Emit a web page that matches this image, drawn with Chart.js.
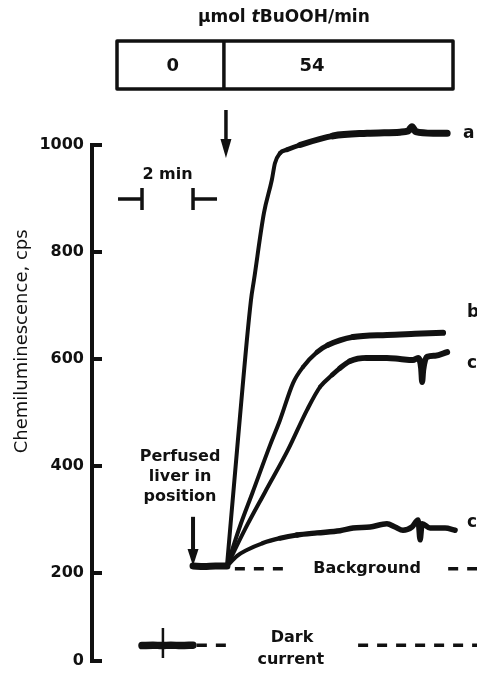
<!DOCTYPE html>
<html>
<head>
<meta charset="utf-8">
<title>Chemiluminescence of perfused liver</title>
<script src="https://cdn.jsdelivr.net/npm/chart.js@4.4.1/dist/chart.umd.min.js"></script>
<style>
  html, body { margin: 0; padding: 0; background: #fff; }
  #wrap { width: 477px; height: 673px; position: relative; }
</style>
</head>
<body>
<div id="wrap"><canvas id="clChart"></canvas></div>
<script>
// time in minutes (0 = start of tBuOOH infusion), values in cps
const yTicks = [0, 200, 400, 600, 800, 1000];

const baseTime = [-1.33, -0.9, -0.45, 0];
const baseVals = [213, 212, 213, 213];

const timeA = [0, 0.43, 0.94, 1.06, 1.45, 1.76, 1.88, 2.08, 2.35, 2.86, 4.16, 5.49, 6.78, 7.1, 7.25, 7.4, 8.08, 8.63];
const valsA = [213, 449, 710, 748, 873, 935, 966, 985, 991, 1000, 1017, 1022, 1024, 1026, 1034, 1025, 1022, 1022];

const timeB = [0, 0.5, 1.0, 1.69, 2.08, 2.59, 2.98, 3.53, 3.96, 4.94, 6.27, 7.37, 8.47];
const valsB = [213, 286, 350, 439, 486, 555, 585, 613, 626, 641, 645, 647, 649];

const timeC = [0, 0.71, 1.49, 2.39, 3.14, 3.65, 4.12, 4.43, 4.82, 5.49, 6.27, 6.78, 7.29, 7.49, 7.61, 7.65, 7.69, 7.84, 8.16, 8.63];
const valsC = [213, 282, 351, 430, 505, 548, 570, 583, 596, 602, 602, 600, 598, 602, 583, 557, 579, 604, 606, 613];

const timeC2 = [0, 0.4, 0.78, 1.41, 2.08, 2.75, 3.53, 4.43, 4.94, 5.61, 6.27, 6.59, 6.9, 7.25, 7.49, 7.57, 7.65, 7.96, 8.55, 8.94];
const valsC2 = [213, 232, 243, 256, 265, 271, 275, 279, 284, 286, 292, 286, 280, 286, 299, 262, 292, 284, 284, 280];

const darkTime = [-3.33, -2.9, -2.55, -2.2, -1.8, -1.33];
const darkVals = [35, 36, 35, 36, 35, 36];
const darkSpikeTime = [-2.51, -2.51];
const darkSpikeVals = [75, 7];

const backgroundLevel = 208;
const backgroundDashFrom = [0.31, 8.67];
const backgroundDashTo = [2.27, 9.8];
const darkDashFrom = [-1.18, 5.14];
const darkDashTo = [0.2, 9.8];

const rateLabels = ["0", "54"];
const rateTitle = ["\u00b5mol ", "t", "BuOOH/min"];
const curveLabels = ["a", "b", "c", "c"];

// timing marks (minutes)
const infusionStart = -0.04;
const liverInPosition = -1.33;
const scaleBarMinutes = 2;

const INK = "#111";
const FONT = "'DejaVu Sans', sans-serif";

// the printed axis is squeezed below 200 cps
const BREAK_VALUE = 200;
const BREAK_FRACTION = 428 / 516;

class BrokenLinearScale extends Chart.LinearScale {
  getPixelForValue(value) {
    if (value === null || value === undefined || isNaN(value)) return NaN;
    const h = this.bottom - this.top;
    const upperH = h * BREAK_FRACTION;
    if (value >= BREAK_VALUE) {
      return this.top + (this.max - value) / (this.max - BREAK_VALUE) * upperH;
    }
    return this.top + upperH + (BREAK_VALUE - value) / (BREAK_VALUE - this.min) * (h - upperH);
  }
  getValueForPixel(pixel) {
    const h = this.bottom - this.top;
    const upperH = h * BREAK_FRACTION;
    if (pixel <= this.top + upperH) {
      return this.max - (pixel - this.top) / upperH * (this.max - BREAK_VALUE);
    }
    return BREAK_VALUE - (pixel - this.top - upperH) / (h - upperH) * (BREAK_VALUE - this.min);
  }
}
BrokenLinearScale.id = "brokenLinear";
BrokenLinearScale.defaults = Chart.LinearScale.defaults;
Chart.register(BrokenLinearScale);

function toPoints(times, values) {
  return times.map((t, i) => ({ x: t, y: values[i] }));
}

// noisy plateaus print thicker than the rising parts
function traceDataset(label, times, values, thickFrom, thickWidth) {
  return {
    label,
    data: toPoints(times, values),
    borderColor: INK,
    borderWidth: 4,
    borderCapStyle: "round",
    borderJoinStyle: "round",
    pointRadius: 0,
    cubicInterpolationMode: "monotone",
    clip: false,
    segment: {
      borderWidth: (ctx) => {
        const k = Math.min(Math.max((ctx.p0.parsed.x - thickFrom) / 1.5, 0), 1);
        return 4 + (thickWidth - 4) * k;
      }
    }
  };
}

function dashDataset(label, starts, ends, level) {
  const data = [];
  starts.forEach((s, i) => {
    if (i > 0) data.push({ x: (ends[i - 1] + s) / 2, y: null });
    data.push({ x: s, y: level }, { x: ends[i], y: level });
  });
  return {
    label,
    data,
    borderColor: INK,
    borderWidth: 3.5,
    borderDash: [10, 9],
    pointRadius: 0,
    spanGaps: false,
    clip: false
  };
}

function drawArrowDown(ctx, px, yFrom, yTip, headLen, headW) {
  ctx.beginPath();
  ctx.moveTo(px, yFrom);
  ctx.lineTo(px, yTip - headLen + 2);
  ctx.stroke();
  ctx.beginPath();
  ctx.moveTo(px - headW / 2, yTip - headLen);
  ctx.lineTo(px + headW / 2, yTip - headLen);
  ctx.lineTo(px, yTip);
  ctx.closePath();
  ctx.fill();
}

const annotations = {
  id: "annotations",
  afterDraw(chart) {
    const { ctx, chartArea } = chart;
    const x = chart.scales.x;
    const y = chart.scales.y;
    const px = (t) => x.getPixelForValue(t);
    const py = (v) => y.getPixelForValue(v);

    ctx.save();
    ctx.strokeStyle = INK;
    ctx.fillStyle = INK;
    ctx.lineWidth = 4;
    ctx.lineCap = "butt";

    // inward tick marks
    yTicks.forEach((v) => {
      const p = py(v);
      ctx.beginPath();
      ctx.moveTo(chartArea.left - 2, p);
      ctx.lineTo(chartArea.left + 10, p);
      ctx.stroke();
    });

    // y axis title
    ctx.save();
    ctx.translate(22, py(633));
    ctx.rotate(-Math.PI / 2);
    ctx.font = "18px " + FONT;
    ctx.textAlign = "center";
    ctx.textBaseline = "middle";
    ctx.fillText("Chemiluminescence, cps", 0, 0);
    ctx.restore();

    // infusion-rate box
    const boxL = px(-4.31), boxR = px(8.86), boxDiv = px(-0.12);
    ctx.lineWidth = 3.5;
    ctx.lineJoin = "round";
    ctx.strokeRect(boxL, 41, boxR - boxL, 48);
    ctx.beginPath();
    ctx.moveTo(boxDiv, 41);
    ctx.lineTo(boxDiv, 89);
    ctx.stroke();

    ctx.font = "bold 18px " + FONT;
    ctx.textAlign = "center";
    ctx.textBaseline = "middle";
    ctx.fillText(rateLabels[0], px(-2.12), 66);
    ctx.fillText(rateLabels[1], px(3.33), 66);

    // title with italic t
    const fonts = ["bold 17px " + FONT, "bold italic 17px " + FONT, "bold 17px " + FONT];
    let total = 0;
    rateTitle.forEach((s, i) => { ctx.font = fonts[i]; total += ctx.measureText(s).width; });
    let cx = px(2.23) - total / 2;
    ctx.textAlign = "left";
    rateTitle.forEach((s, i) => {
      ctx.font = fonts[i];
      ctx.fillText(s, cx, 18);
      cx += ctx.measureText(s).width;
    });

    // tBuOOH arrow
    drawArrowDown(ctx, px(infusionStart), 110, 158, 19, 11);

    // 2 min scale bar
    const barY = py(899);
    const l = px(liverInPosition - scaleBarMinutes), r = px(liverInPosition);
    const whisker = px(0.94) - px(0);
    ctx.lineWidth = 3.5;
    ctx.beginPath();
    ctx.moveTo(l - whisker, barY); ctx.lineTo(l, barY);
    ctx.moveTo(l, barY - 11); ctx.lineTo(l, barY + 11);
    ctx.moveTo(r + whisker, barY); ctx.lineTo(r, barY);
    ctx.moveTo(r, barY - 11); ctx.lineTo(r, barY + 11);
    ctx.stroke();
    ctx.font = "bold 16px " + FONT;
    ctx.textAlign = "center";
    ctx.fillText("2 min", (l + r) / 2, py(944));

    // perfused liver arrow
    ctx.lineWidth = 4;
    drawArrowDown(ctx, px(liverInPosition), py(305), py(213), 17, 11);
    ctx.font = "bold 16px " + FONT;
    ctx.fillText("Perfused", px(-1.84), py(417));
    ctx.fillText("liver in", px(-1.84), py(379));
    ctx.fillText("position", px(-1.84), py(342));

    // level labels
    ctx.fillText("Background", px(5.49), py(208));
    ctx.fillText("Dark", px(2.55), py(52));
    ctx.fillText("current", px(2.5), py(3));

    // curve labels
    ctx.font = "bold 17px " + FONT;
    ctx.textAlign = "left";
    ctx.fillText(curveLabels[0], px(9.25), py(1022));
    ctx.fillText(curveLabels[1], px(9.41), py(686));
    ctx.fillText(curveLabels[2], px(9.41), py(591));
    ctx.fillText(curveLabels[3], px(9.41), py(295));

    ctx.restore();
  }
};

new Chart(document.getElementById("clChart"), {
  type: "line",
  data: {
    datasets: [
      traceDataset("baseline", baseTime, baseVals, -10, 7),
      traceDataset("a", timeA, valsA, 1.9, 7),
      traceDataset("b", timeB, valsB, 2.8, 6),
      traceDataset("c", timeC, valsC, 3.5, 6),
      traceDataset("c (low)", timeC2, valsC2, 1.0, 5.5),
      traceDataset("dark current", darkTime, darkVals, -10, 7.5),
      {
        label: "dark spike",
        data: toPoints(darkSpikeTime, darkSpikeVals),
        borderColor: INK,
        borderWidth: 2.5,
        pointRadius: 0,
        clip: false
      },
      dashDataset("background", backgroundDashFrom, backgroundDashTo, backgroundLevel),
      dashDataset("dark level", darkDashFrom, darkDashTo, darkVals[darkVals.length - 1])
    ]
  },
  options: {
    responsive: true,
    maintainAspectRatio: false,
    animation: false,
    layout: { padding: { top: 145, right: 0, bottom: 12, left: 0 } },
    plugins: {
      legend: { display: false },
      tooltip: { enabled: false }
    },
    scales: {
      x: {
        type: "linear",
        min: -5.29,
        max: 9.8,
        display: false
      },
      y: {
        type: "brokenLinear",
        min: 0,
        max: 1000,
        afterFit(scale) {
          scale.width = 92;
          scale.paddingTop = 0;
          scale.paddingBottom = 0;
        },
        afterBuildTicks(scale) {
          scale.ticks = yTicks.map((v) => ({ value: v }));
        },
        grid: { drawOnChartArea: false, drawTicks: false },
        border: { display: true, color: INK, width: 4 },
        ticks: {
          color: INK,
          padding: 8,
          font: { family: FONT, size: 16, weight: "bold" },
          callback: (value) => String(value)
        }
      }
    }
  },
  plugins: [annotations]
});
</script>
</body>
</html>
